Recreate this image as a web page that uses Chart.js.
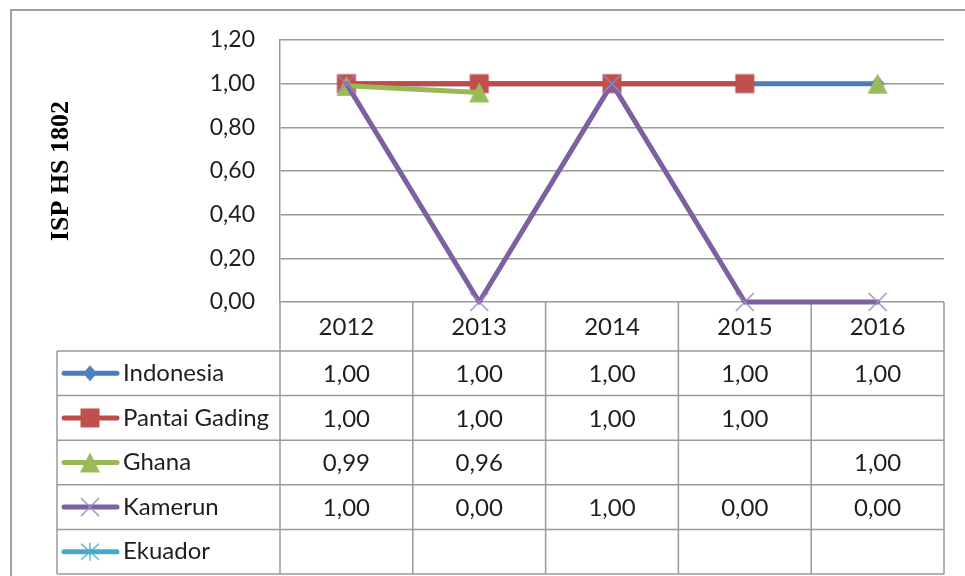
<!DOCTYPE html>
<html>
<head>
<meta charset="utf-8">
<script src="https://cdn.jsdelivr.net/npm/chart.js@4/dist/chart.umd.min.js"></script>
<style>
  html, body { margin: 0; padding: 0; background: #ffffff; }
  #wrap { width: 965px; height: 576px; position: relative; }
</style>
</head>
<body>
<div id="wrap"><canvas id="c" width="965" height="576"></canvas></div>
<script>
// Categories, series and axis values
const years = ['2012', '2013', '2014', '2015', '2016'];
const seriesNames = ['Indonesia', 'Pantai Gading', 'Ghana', 'Kamerun', 'Ekuador'];
const indonesia = [1.00, 1.00, 1.00, 1.00, 1.00];
const pantaiGading = [1.00, 1.00, 1.00, 1.00, null];
const ghana = [0.99, 0.96, null, null, 1.00];
const kamerun = [1.00, 0.00, 1.00, 0.00, 0.00];
const ekuador = [null, null, null, null, null];
const yTicks = [0.00, 0.20, 0.40, 0.60, 0.80, 1.00, 1.20];
const yTitle = 'ISP HS 1802';

const fmt = v => v.toFixed(2).replace('.', ',');
const TEXT = '#1e1e1e';
const RULE = '#9a9a9a';
const FONT = 'Lato, "Open Sans", sans-serif';

// Marker glyphs drawn once into small canvases and reused by the plot and the table legend
function makeMarker(kind, color) {
  const s = 24, m = s / 2;
  const cv = document.createElement('canvas');
  cv.width = s; cv.height = s;
  const g = cv.getContext('2d');
  g.fillStyle = color; g.strokeStyle = color;
  if (kind === 'diamond') {
    g.beginPath(); g.moveTo(m, m - 8); g.lineTo(m + 7, m); g.lineTo(m, m + 8); g.lineTo(m - 7, m); g.closePath(); g.fill();
  } else if (kind === 'square') {
    g.fillRect(m - 9.5, m - 9.5, 19, 19);
  } else if (kind === 'triangle') {
    g.beginPath(); g.moveTo(m, m - 10); g.lineTo(m + 10, m + 10); g.lineTo(m - 10, m + 10); g.closePath(); g.fill();
  } else if (kind === 'cross') {
    g.lineWidth = 1.3;
    g.beginPath(); g.moveTo(m - 9, m - 9); g.lineTo(m + 9, m + 9); g.moveTo(m + 9, m - 9); g.lineTo(m - 9, m + 9); g.stroke();
  } else if (kind === 'star') {
    g.lineWidth = 1.3;
    g.beginPath(); g.moveTo(m - 9, m - 8); g.lineTo(m + 9, m + 8); g.moveTo(m + 9, m - 8); g.lineTo(m - 9, m + 8);
    g.moveTo(m, m - 9); g.lineTo(m, m + 9); g.stroke();
  }
  return cv;
}

const lineColors = ['#4A7EBB', '#BE4B48', '#98B954', '#7D60A0', '#46AAC5'];
const markers = [
  makeMarker('diamond', '#4F81BD'),
  makeMarker('square', '#C0504D'),
  makeMarker('triangle', '#9BBB59'),
  makeMarker('cross', '#9C87C6'),
  makeMarker('star', '#4BACC6')
];
const seriesValues = [indonesia, pantaiGading, ghana, kamerun, ekuador];

// Outer frame of the chart object
const framePlugin = {
  id: 'frame',
  beforeDraw(chart) {
    const ctx = chart.ctx;
    ctx.save();
    ctx.fillStyle = '#ffffff';
    ctx.fillRect(0, 0, chart.width, chart.height);
    ctx.strokeStyle = '#a0a0a0';
    ctx.lineWidth = 2;
    ctx.beginPath();
    ctx.moveTo(11, chart.height);
    ctx.lineTo(11, 10);
    ctx.lineTo(chart.width, 10);
    ctx.stroke();
    ctx.restore();
  }
};

// Data table under the plot: year header, legend keys and values per series
const tablePlugin = {
  id: 'dataTable',
  beforeDatasetsDraw(chart) {
    const ctx = chart.ctx;
    const area = chart.chartArea;
    const xs = chart.scales.x;
    const n = years.length;
    const centers = years.map((_, i) => xs.getPixelForValue(i));
    const bounds = [area.left];
    for (let i = 0; i < n - 1; i++) bounds.push((centers[i] + centers[i + 1]) / 2);
    bounds.push(area.right);

    const headTop = area.bottom;
    const headH = 49;
    const rowH = 44.6;
    const rowsTop = headTop + headH;
    const rowsBottom = rowsTop + rowH * seriesNames.length;
    const keyLeft = 57;

    ctx.save();
    ctx.strokeStyle = RULE;
    ctx.lineWidth = 1.5;
    ctx.beginPath();
    // column rules
    bounds.forEach(x => { ctx.moveTo(x, headTop); ctx.lineTo(x, rowsBottom); });
    ctx.moveTo(keyLeft, rowsTop); ctx.lineTo(keyLeft, rowsBottom);
    // row rules
    for (let r = 0; r <= seriesNames.length; r++) {
      const y = rowsTop + r * rowH;
      ctx.moveTo(keyLeft, y); ctx.lineTo(area.right, y);
    }
    ctx.stroke();

    ctx.fillStyle = TEXT;
    ctx.font = '24px ' + FONT;
    ctx.textAlign = 'center';
    ctx.textBaseline = 'middle';
    years.forEach((yr, i) => ctx.fillText(yr, centers[i], headTop + headH / 2 + 1));

    seriesNames.forEach((name, r) => {
      const cy = rowsTop + r * rowH + rowH / 2;
      // legend key
      ctx.strokeStyle = lineColors[r];
      ctx.lineWidth = 5;
      ctx.lineCap = 'round';
      ctx.beginPath(); ctx.moveTo(64, cy); ctx.lineTo(117, cy); ctx.stroke();
      ctx.drawImage(markers[r], 90 - markers[r].width / 2, cy - markers[r].height / 2);
      ctx.fillStyle = TEXT;
      ctx.textAlign = 'left';
      ctx.fillText(name, 123, cy);
      // values
      ctx.textAlign = 'center';
      seriesValues[r].forEach((v, i) => {
        if (v !== null) ctx.fillText(fmt(v), centers[i], cy + 1);
      });
    });
    ctx.restore();
  }
};

function build() {
  Chart.defaults.font.family = FONT;
  const datasets = seriesNames.map((name, i) => ({
    label: name,
    data: seriesValues[i],
    borderColor: lineColors[i],
    backgroundColor: lineColors[i],
    borderWidth: 5,
    borderCapStyle: 'round',
    borderJoinStyle: 'round',
    pointStyle: markers[i],
    pointRadius: 10,
    pointHoverRadius: 10,
    tension: 0,
    spanGaps: false,
    clip: false,
    order: seriesNames.length - i
  }));

  new Chart(document.getElementById('c'), {
    type: 'line',
    data: { labels: years, datasets },
    options: {
      responsive: false,
      animation: false,
      events: [],
      layout: { padding: { left: 0, top: 40, right: 21, bottom: 274 } },
      plugins: { legend: { display: false }, tooltip: { enabled: false } },
      scales: {
        x: { type: 'category', offset: true, display: false },
        y: {
          min: yTicks[0],
          max: yTicks[yTicks.length - 1],
          afterFit(scale) { scale.width = 280; },
          afterBuildTicks(scale) { scale.ticks = yTicks.map(v => ({ value: v })); },
          ticks: {
            padding: 25,
            color: TEXT,
            font: { size: 23, family: FONT },
            callback: v => fmt(v)
          },
          grid: { color: RULE, lineWidth: 1.5, drawTicks: false },
          border: { display: true, color: RULE, width: 1.5 },
          title: {
            display: true,
            text: yTitle,
            color: '#000000',
            font: { family: '"Liberation Serif", "Times New Roman", serif', size: 26, weight: 'bold' },
            padding: { top: 46, bottom: 0 }
          }
        }
      }
    },
    plugins: [framePlugin, tablePlugin]
  });
}

Promise.all([
  document.fonts.load('24px Lato'),
  document.fonts.load('bold 26px "Liberation Serif"')
]).then(build, build);
</script>
</body>
</html>
